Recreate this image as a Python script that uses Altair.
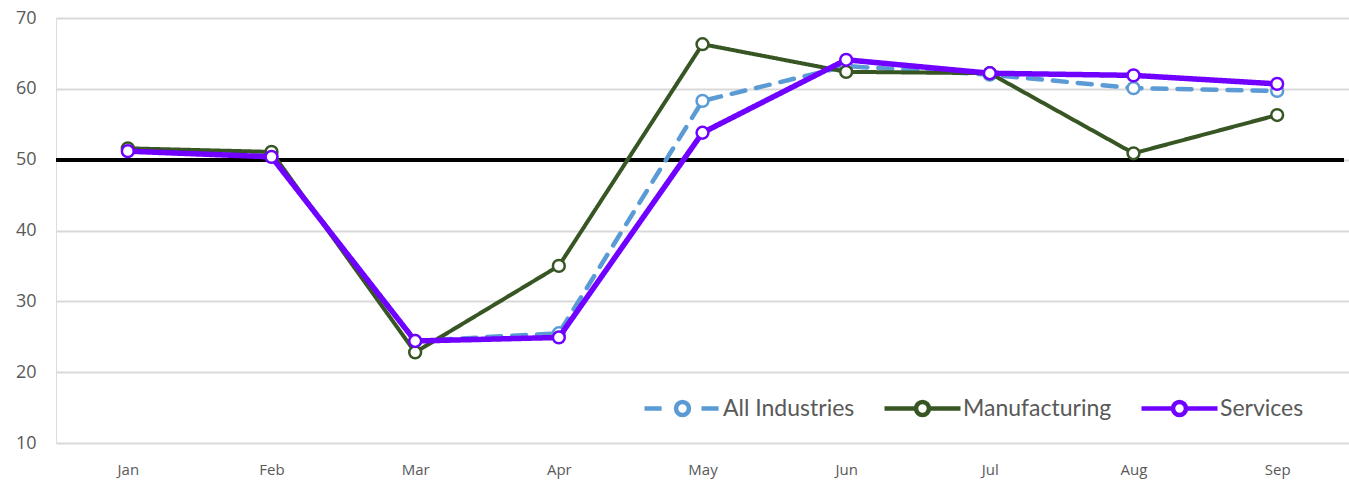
import altair as alt
import pandas as pd

months = ["Jan", "Feb", "Mar", "Apr", "May", "Jun", "Jul", "Aug", "Sep"]
all_industries = [51.4, 50.5, 24.4, 25.5, 58.3, 63.2, 62.0, 60.1, 59.7]
manufacturing = [51.6, 51.1, 22.8, 35.0, 66.3, 62.4, 62.2, 50.9, 56.3]
services = [51.2, 50.4, 24.4, 24.9, 53.8, 64.1, 62.2, 61.9, 60.7]

series_names = ["All Industries", "Manufacturing", "Services"]
series_values = [all_industries, manufacturing, services]
series_colors = ["#5B9BD5", "#375623", "#7000FF"]
series_widths = [4.5, 4, 5.5]
series_dash = [[14, 11], [1, 0], [1, 0]]

rows = []
for name, vals in zip(series_names, series_values):
    for m, v in zip(months, vals):
        rows.append({"Month": m, "Value": v, "Series": name})
df = pd.DataFrame(rows)

x_enc = alt.X("Month:N", sort=months, scale=alt.Scale(type="point", padding=0.5),
              axis=alt.Axis(title=None, domain=False, ticks=False, labelAngle=0,
                            labelFont="Open Sans", labelFontSize=15, labelColor="#595959",
                            labelPadding=19))
y_enc = alt.Y("Value:Q", scale=alt.Scale(domain=[10, 70], nice=False, zero=False),
              axis=alt.Axis(title=None, values=[10, 20, 30, 40, 50, 60, 70], domain=False,
                            ticks=False, grid=True, gridColor="#D9D9D9", gridWidth=2,
                            labelFont="Open Sans", labelFontSize=18, labelColor="#595959",
                            labelPadding=20))

color_scale = alt.Scale(domain=series_names, range=series_colors)
circ = "M0.17,0 A0.17,0.17 0 1,1 -0.17,0 A0.17,0.17 0 1,1 0.17,0 Z"
path_dashed = "M-1,0 L-0.55,0 M0.5,0 L0.95,0 " + circ
path_solid = "M-1,0 L-0.17,0 M0.17,0 L1,0 " + circ
sym_expr = "datum.value === 'All Industries' ? '%s' : '%s'" % (path_dashed, path_solid)

rule50 = alt.Chart(df).mark_rule(color="black", strokeWidth=3).encode(
    y=alt.datum(50), x=alt.value(0), x2=alt.value(1288))

layers = [rule50]
for i, (name, col, w, dash) in enumerate(zip(series_names, series_colors, series_widths, series_dash)):
    base = alt.Chart(df).transform_filter(alt.datum.Series == name)
    legend = None
    if i == 0:
        legend = alt.Legend(title=None, orient="none", direction="horizontal",
                            legendX=586, legendY=350, padding=0,
                            symbolType=alt.ExprRef(expr=sym_expr), symbolSize=5776,
                            symbolStrokeWidth=4.5,
                            symbolFillColor="white",
                            labelFont="Lato", labelFontSize=23, labelColor="#595959",
                            labelOffset=0, columnPadding=20)
    line = base.mark_line(strokeWidth=w, strokeDash=dash,
                          strokeCap="round" if i == 0 else "butt").encode(
        x=x_enc, y=y_enc,
        color=alt.Color("Series:N", scale=color_scale, legend=legend))
    pts = base.mark_point(filled=True, fill="white", size=140, strokeWidth=2.5, opacity=1).encode(
        x=x_enc, y=y_enc,
        stroke=alt.Stroke("Series:N", scale=color_scale, legend=None))
    layers += [line, pts]

chart = alt.layer(*layers).properties(
    width=1293, height=425,
    autosize=alt.AutoSizeParams(type="none"),
    padding={"left": 56, "top": 18, "right": 0, "bottom": 38},
).configure_view(stroke=None).configure(background="white")

chart.save("out.html", embed_options={"renderer": "svg", "actions": False})
